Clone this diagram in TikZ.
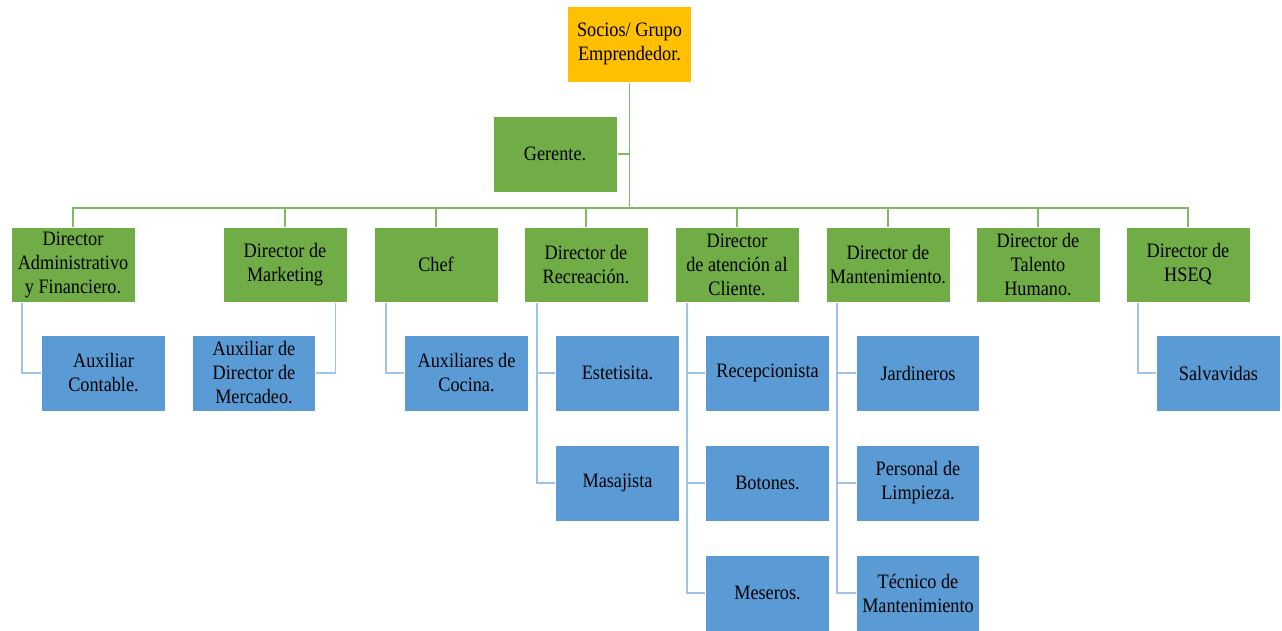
\documentclass[tikz,border=0pt]{standalone}
\usepackage{fontspec}
\setmainfont{Liberation Serif}[FakeStretch=0.89]
\usetikzlibrary{backgrounds}
\definecolor{topfill}{HTML}{FFC000}
\definecolor{greenfill}{HTML}{70AD47}
\definecolor{bluefill}{HTML}{5B9BD5}
\definecolor{greenline}{HTML}{82B964}
\definecolor{blueline}{HTML}{9DC3E6}
\begin{document}
\begin{tikzpicture}[x=1pt,y=-1pt,
  box/.style={draw=white, line width=0.8pt, minimum width=123.5pt, minimum height=76pt,
    inner sep=2pt, align=center, text=black, font=\fontsize{20.5}{24}\selectfont},
  topbox/.style={box, fill=topfill},
  dirbox/.style={box, fill=greenfill, minimum width=124pt, minimum height=75pt},
  subbox/.style={box, fill=bluefill},
  gline/.style={draw=greenline, line width=1.8pt},
  bline/.style={draw=blueline, line width=1.8pt}]
\useasboundingbox (0,0) rectangle (1282,630);

% top of the chart
\node[topbox] (s) at (629.5,44) {Socios/ Grupo\\Emprendedor.};
\node[dirbox, minimum height=76pt] (g) at (555,154) {Gerente.};

% directors
\node[dirbox] (d1) at (73,264.5)   {Director\\Administrativo\\y Financiero.};
\node[dirbox] (d2) at (285,264.5)  {Director de\\Marketing};
\node[dirbox] (d3) at (436,264.5)  {Chef};
\node[dirbox] (d4) at (586,264.5)  {Director de\\Recreación.};
\node[dirbox] (d5) at (737,264.5)  {Director\\de atención al\\Cliente.};
\node[dirbox] (d6) at (888,264.5)  {Director de\\Mantenimiento.};
\node[dirbox] (d7) at (1038,264.5) {Director de\\Talento\\Humano.};
\node[dirbox] (d8) at (1188,264.5) {Director de\\HSEQ};

% staff
\node[subbox] (c1)  at (103.5,373) {Auxiliar\\Contable.};
\node[subbox] (c2)  at (254,373)   {Auxiliar de\\Director de\\Mercadeo.};
\node[subbox] (c3)  at (466.5,373) {Auxiliares de\\Cocina.};
\node[subbox] (c4a) at (617.5,373) {Estetisita.};
\node[subbox] (c4b) at (617.5,483) {Masajista};
\node[subbox] (c5a) at (767.5,373) {Recepcionista};
\node[subbox] (c5b) at (767.5,483) {Botones.};
\node[subbox] (c5c) at (767.5,593) {Meseros.};
\node[subbox] (c6a) at (918,373)   {Jardineros};
\node[subbox] (c6b) at (918,483)   {Personal de\\Limpieza.};
\node[subbox] (c6c) at (918,593)   {Técnico de\\Mantenimiento};
\node[subbox] (c8)  at (1218.5,373) {Salvavidas};

\begin{scope}[on background layer]
  \coordinate (bus) at (629.5,208);
  \draw[gline] (s.south) -- (bus);
  \draw[gline] (g.east) -- (g.east -| bus);
  \foreach \d in {d1,d2,d3,d4,d5,d6,d7,d8}
    \draw[gline] (bus) -| (\d.north);

  \draw[bline] ([xshift=11pt]d1.south west) |- (c1.west);
  \draw[bline] ([xshift=-12pt]d2.south east) |- (c2.east);
  \draw[bline] ([xshift=12pt]d3.south west) |- (c3.west);
  \draw[bline] ([xshift=13pt]d4.south west) |- (c4b.west);
  \draw[bline] ([xshift=13pt]d4.south west |- c4a.west) -- (c4a.west);
  \draw[bline] ([xshift=12pt]d5.south west) |- (c5c.west);
  \draw[bline] ([xshift=12pt]d5.south west |- c5a.west) -- (c5a.west);
  \draw[bline] ([xshift=12pt]d5.south west |- c5b.west) -- (c5b.west);
  \draw[bline] ([xshift=11pt]d6.south west) |- (c6c.west);
  \draw[bline] ([xshift=11pt]d6.south west |- c6a.west) -- (c6a.west);
  \draw[bline] ([xshift=11pt]d6.south west |- c6b.west) -- (c6b.west);
  \draw[bline] ([xshift=12pt]d8.south west) |- (c8.west);
\end{scope}
\end{tikzpicture}
\end{document}
